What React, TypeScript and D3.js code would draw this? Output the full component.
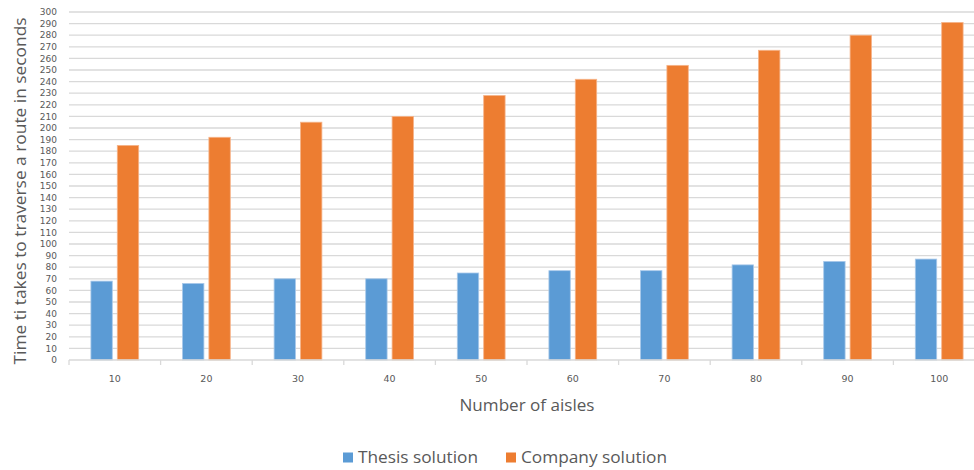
import React from "react";
import * as d3 from "d3";

const aisles = ["10", "20", "30", "40", "50", "60", "70", "80", "90", "100"];
const thesisSolution = [68, 66, 70, 70, 75, 77, 77, 82, 85, 87];
const companySolution = [185, 192, 205, 210, 228, 242, 254, 267, 280, 291];
const seriesNames = ["Thesis solution", "Company solution"];
const seriesColors = ["#5B9BD5", "#ED7D31"];
const yTicks = d3.range(0, 301, 10);

const W = 974;
const H = 470;
const left = 69;
const right = 985;
const top = 12;
const bottom = 360;
const textColor = "#595959";
const font = "'Open Sans', 'Noto Sans', sans-serif";
const tickFont = "'DejaVu Sans', sans-serif";

export default function App() {
  const x = d3.scaleBand<string>().domain(aisles).range([left, right]).padding(0);
  const inner = d3
    .scaleBand<string>()
    .domain(seriesNames)
    .range([0, x.bandwidth()])
    .paddingInner(0.189)
    .paddingOuter(0.83);
  const y = d3.scaleLinear().domain([0, 300]).range([bottom, top]);
  const series = [thesisSolution, companySolution];
  const legendWidths = [120, 146];

  return (
    <svg
      width={W}
      height={H}
      style={{ position: "absolute", left: 0, top: 0, background: "#fff" }}
      fontFamily={font}
    >
      {/* horizontal gridlines */}
      {yTicks.slice(1).map((t) => (
        <line key={t} x1={left} x2={W} y1={y(t)} y2={y(t)} stroke="#d9d9d9" strokeWidth={1.3} />
      ))}
      {/* y tick labels */}
      {yTicks.map((t) => (
        <text
          key={t}
          x={57}
          y={y(t)}
          dy="0.35em"
          textAnchor="end"
          fontSize={9}
          fontFamily={tickFont}
          fill={textColor}
        >
          {t}
        </text>
      ))}
      {/* bars */}
      {aisles.map((a, i) => (
        <g key={a} transform={`translate(${x(a)},0)`}>
          {series.map((vals, s) => (
            <rect
              key={s}
              x={inner(seriesNames[s])}
              y={y(vals[i])}
              width={inner.bandwidth()}
              height={bottom - y(vals[i])}
              fill={seriesColors[s]}
              stroke={s === 0 ? "#a9c9ea" : "#f6b48a"}
              strokeWidth={0.8}
            />
          ))}
        </g>
      ))}
      {/* x axis line and ticks */}
      <line x1={left} x2={W} y1={bottom} y2={bottom} stroke="#d9d9d9" strokeWidth={1.3} />
      {aisles.concat(["end"]).map((a, i) => {
        const xx = i < aisles.length ? (x(a) as number) : right;
        return <line key={a} x1={xx} x2={xx} y1={bottom} y2={bottom + 5} stroke="#d9d9d9" strokeWidth={1.3} />;
      })}
      {aisles.map((a) => (
        <text
          key={a}
          x={(x(a) as number) + x.bandwidth() / 2}
          y={379}
          dy="0.35em"
          textAnchor="middle"
          fontSize={9.5}
          fontFamily={tickFont}
          fill={textColor}
        >
          {a}
        </text>
      ))}
      {/* axis titles */}
      <text
        x={527}
        y={405}
        dy="0.35em"
        textAnchor="middle"
        fontSize={16}
        fill={textColor}
        textLength={135}
        lengthAdjust="spacingAndGlyphs"
      >
        Number of aisles
      </text>
      <text
        transform={`translate(20,191) rotate(-90)`}
        dy="0.35em"
        textAnchor="middle"
        fontSize={17}
        fill={textColor}
        textLength={347}
        lengthAdjust="spacingAndGlyphs"
      >
        Time ti takes to traverse a route in seconds
      </text>
      {/* legend */}
      {seriesNames.map((name, s) => {
        const lx = s === 0 ? 343 : 506;
        return (
          <g key={name}>
            <rect x={lx} y={452.5} width={10} height={10} fill={seriesColors[s]} />
            <text
              x={lx + 15}
              y={457.5}
              dy="0.35em"
              fontSize={16}
              fill={textColor}
              textLength={legendWidths[s]}
              lengthAdjust="spacingAndGlyphs"
            >
              {name}
            </text>
          </g>
        );
      })}
    </svg>
  );
}
